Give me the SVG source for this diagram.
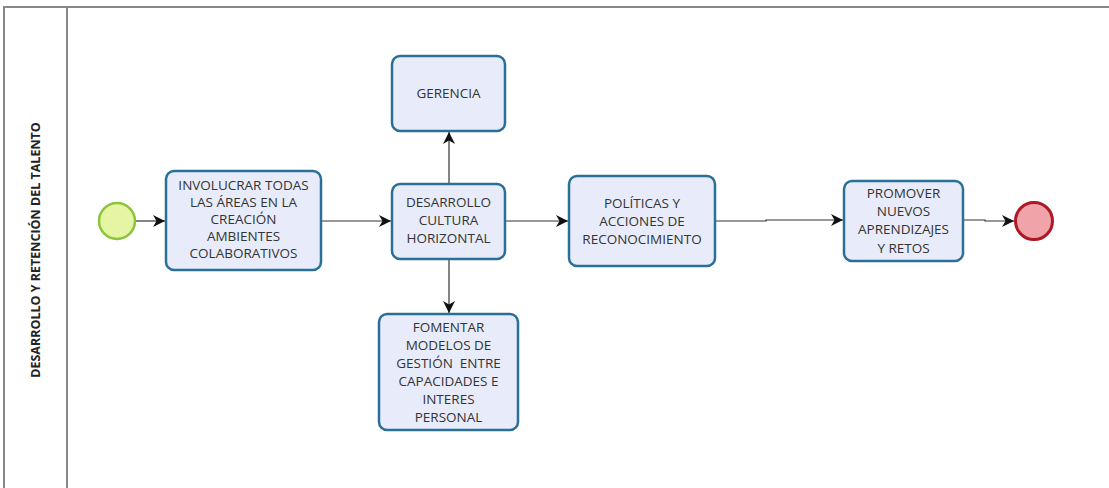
<svg xmlns="http://www.w3.org/2000/svg" width="1109" height="488" viewBox="0 0 1109 488">
<defs>
<marker id="ah" viewBox="0 0 12 12" refX="12" refY="6" markerWidth="12" markerHeight="12" markerUnits="userSpaceOnUse" orient="auto">
<path d="M0,0 L12,6 L0,12 L3.5,6 Z" fill="#111"/>
</marker>
<style>
.task{fill:#e8ecfa;stroke:#2a7096;stroke-width:2.5}
.t{font-family:"Open Sans","Noto Sans",sans-serif;font-size:13.5px;fill:#333;text-anchor:middle}
.c{fill:none;stroke:#333;stroke-width:1.2;marker-end:url(#ah)}
.pool{fill:none;stroke:#888;stroke-width:2}
</style>
</defs>
<rect width="1109" height="488" fill="#fff"/>
<g id="pool">
<line class="pool" x1="4" y1="7" x2="1109" y2="7"/>
<line class="pool" x1="4" y1="6" x2="4" y2="488"/>
<line class="pool" x1="67" y1="7" x2="67" y2="488"/>
<text transform="translate(40,250) rotate(-90)" font-family="'Open Sans','Noto Sans',sans-serif" font-size="12.5" font-weight="bold" fill="#222" text-anchor="middle">DESARROLLO Y RETENCIÓN DEL TALENTO</text>
</g>
<g id="connectors">
<path class="c" d="M136,221 L165,221"/>
<path class="c" d="M321,221 L391,221"/>
<path class="c" d="M449,184 L449,132"/>
<path class="c" d="M449,259 L449,313"/>
<path class="c" d="M505,221 L568,221"/>
<path class="c" d="M715,221 L766,221 L766,220 L843,220"/>
<path class="c" d="M963,220 L985,220 L985,221 L1014,221"/>
</g>
<g id="start"><circle cx="117" cy="221" r="18" fill="#e5f5a3" stroke="#8cc43c" stroke-width="2.5"/></g>
<g id="involucrar">
<rect class="task" x="166" y="171" width="155" height="99" rx="8"/>
<text class="t" x="243.5" y="190">INVOLUCRAR TODAS</text>
<text class="t" x="243.5" y="207">LAS ÁREAS EN LA</text>
<text class="t" x="243.5" y="224">CREACIÓN</text>
<text class="t" x="243.5" y="241">AMBIENTES</text>
<text class="t" x="243.5" y="258">COLABORATIVOS</text>
</g>
<g id="gerencia">
<rect class="task" x="392" y="56" width="113" height="75" rx="8"/>
<text class="t" x="448.5" y="98">GERENCIA</text>
</g>
<g id="desarrollo">
<rect class="task" x="392" y="184" width="113" height="75" rx="8"/>
<text class="t" x="448.5" y="207">DESARROLLO</text>
<text class="t" x="448.5" y="225">CULTURA</text>
<text class="t" x="448.5" y="243">HORIZONTAL</text>
</g>
<g id="fomentar">
<rect class="task" x="379" y="314" width="139" height="116" rx="8"/>
<text class="t" x="448.5" y="332">FOMENTAR</text>
<text class="t" x="448.5" y="350">MODELOS DE</text>
<text class="t" x="448.5" y="368" xml:space="preserve">GESTIÓN  ENTRE</text>
<text class="t" x="448.5" y="386">CAPACIDADES E</text>
<text class="t" x="448.5" y="404">INTERES</text>
<text class="t" x="448.5" y="422">PERSONAL</text>
</g>
<g id="politicas">
<rect class="task" x="569" y="176" width="146" height="90" rx="8"/>
<text class="t" x="642" y="208">POLÍTICAS Y</text>
<text class="t" x="642" y="226">ACCIONES DE</text>
<text class="t" x="642" y="244">RECONOCIMIENTO</text>
</g>
<g id="promover">
<rect class="task" x="844" y="181" width="119" height="80" rx="8"/>
<text class="t" x="903.5" y="198">PROMOVER</text>
<text class="t" x="903.5" y="216">NUEVOS</text>
<text class="t" x="903.5" y="234">APRENDIZAJES</text>
<text class="t" x="903.5" y="253">Y RETOS</text>
</g>
<g id="end"><circle cx="1034" cy="221" r="18.5" fill="#f0a3a8" stroke="#ad1a26" stroke-width="3"/></g>
</svg>
